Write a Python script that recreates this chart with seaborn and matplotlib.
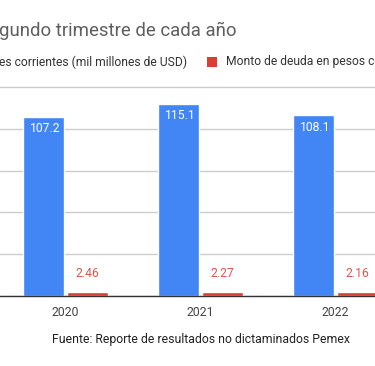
import matplotlib
matplotlib.use("Agg")
import matplotlib.pyplot as plt
import seaborn as sns
import pandas as pd

# ---- data ----
years = ["2020", "2021", "2022"]
series_names = ["es corrientes (mil millones de USD)", "Monto de deuda en pesos c"]
blue_values = [107.2, 115.1, 108.1]
red_values = [2.46, 2.27, 2.16]
y_ticks = [0, 25, 50, 75, 100, 125]
title_text = "gundo trimestre de cada año"
source_text = "Fuente: Reporte de resultados no dictaminados Pemex"

BLUE = "#4285F4"
RED = "#D63F33"
RED_LABEL = "#D9574C"

df = pd.DataFrame({
    "year": years * 2,
    "serie": [series_names[0]] * 3 + [series_names[1]] * 3,
    "valor": blue_values + red_values,
})

sns.set_theme(style="white")
plt.rcParams["font.family"] = ["Roboto", "DejaVu Sans"]

W, H = 375, 366
fig = plt.figure(figsize=(W / 100, H / 100), dpi=100)
fig.patch.set_facecolor("white")

# axes geometry in pixels
base_px = 296
scale = 1.672  # px per unit
ytop = 126
ax_h = ytop * scale
ax = fig.add_axes([0, (H - base_px) / H, 1, ax_h / H])

sns.barplot(data=df, x="year", y="valor", hue="serie", order=years,
            hue_order=series_names, palette=[BLUE, RED],
            width=0.652, gap=0.068, saturation=1, legend=False, ax=ax, zorder=2)

ax.set_xlim(-65.5 / 135, (W - 65.5) / 135)
ax.set_ylim(0, ytop)
ax.set_yticks(y_ticks)
ax.set_yticklabels([])
ax.tick_params(axis="y", length=0)
ax.tick_params(axis="x", length=0, labelsize=8.8, labelcolor="#444444", pad=7)
ax.set_xlabel("")
ax.set_ylabel("")
ax.grid(axis="y", color="#cccccc", linewidth=1, zorder=0)
ax.set_axisbelow(True)
for s in ["left", "right", "top"]:
    ax.spines[s].set_visible(False)
ax.spines["bottom"].set_color("#333333")
ax.spines["bottom"].set_linewidth(1)
ax.spines["bottom"].set_zorder(3)

# value labels
for cont, vals, col in zip(ax.containers, [blue_values, red_values], ["white", RED_LABEL]):
    for patch, v in zip(cont.patches, vals):
        xc = patch.get_x() + patch.get_width() / 2
        if col == "white":
            ax.annotate(f"{v:.1f}", (xc, v), xytext=(1, -8.8), textcoords="offset points",
                        ha="center", va="center", color="white", fontsize=8.7, zorder=4)
        else:
            ax.annotate(f"{v:.2f}", (xc, v), xytext=(0, 13.5), textcoords="offset points",
                        ha="center", va="center", color=col, fontsize=8.7, zorder=4)

# title and legend (cropped chart)
fig.text(-1 / W, 1 - 31 / H, title_text, ha="left", va="center", fontsize=13.4,
         color="#5f5f5f")
fig.text(-1 / W, 1 - 62 / H, series_names[0], ha="left", va="center", fontsize=8.7,
         color="#333333")
fig.patches.append(plt.Rectangle((207 / W, 1 - 67 / H), 10 / W, 10 / H,
                                 transform=fig.transFigure, facecolor=RED,
                                 edgecolor="none", figure=fig))
fig.text(226 / W, 1 - 62 / H, series_names[1], ha="left", va="center", fontsize=8.7,
         color="#333333")

fig.text(201 / W, 1 - 340 / H, source_text, ha="center", va="center", fontsize=8.8,
         color="#222222")

fig.savefig("out.png", dpi=100, facecolor="white")
